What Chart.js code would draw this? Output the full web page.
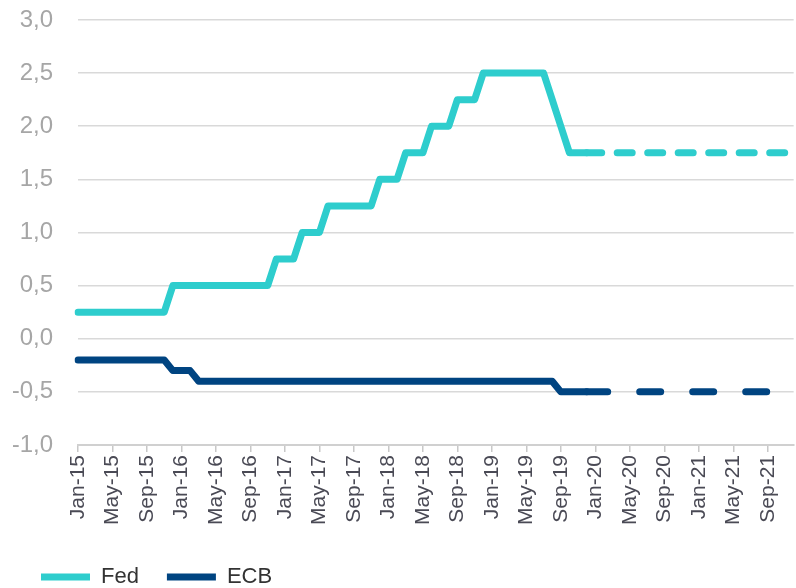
<!DOCTYPE html>
<html>
<head>
<meta charset="utf-8">
<script src="https://cdn.jsdelivr.net/npm/chart.js@4/dist/chart.umd.min.js"></script>
<style>
  html, body { margin: 0; padding: 0; background: #fff; }
  #wrap { width: 796px; height: 588px; }
</style>
</head>
<body>
<div id="wrap"><canvas id="rates"></canvas></div>
<script>
// months Jan-15 .. Dec-21
const months = [];
const monthNames = ['Jan','Feb','Mar','Apr','May','Jun','Jul','Aug','Sep','Oct','Nov','Dec'];
for (let y = 15; y <= 21; y++) {
    for (const m of monthNames) months.push(m + '-' + y);
}

// Fed (solid, observed) Jan-15 .. Dec-19
const fedActual = [
    0.25, 0.25, 0.25, 0.25, 0.25, 0.25, 0.25, 0.25, 0.25, 0.25, 0.25,
    0.5, 0.5, 0.5, 0.5, 0.5, 0.5, 0.5, 0.5, 0.5, 0.5, 0.5, 0.5,
    0.75, 0.75, 0.75,
    1.0, 1.0, 1.0,
    1.25, 1.25, 1.25, 1.25, 1.25, 1.25,
    1.5, 1.5, 1.5,
    1.75, 1.75, 1.75,
    2.0, 2.0, 2.0,
    2.25, 2.25, 2.25,
    2.5, 2.5, 2.5, 2.5, 2.5, 2.5, 2.5, 2.5,
    2.25, 2.0, 1.75,
    1.75, 1.75
];
// ECB (solid, observed) Jan-15 .. Dec-19
const ecbActual = [
    -0.2, -0.2, -0.2, -0.2, -0.2, -0.2, -0.2, -0.2, -0.2, -0.2, -0.2,
    -0.3, -0.3, -0.3,
    -0.4, -0.4, -0.4, -0.4, -0.4, -0.4, -0.4, -0.4, -0.4, -0.4, -0.4, -0.4, -0.4, -0.4,
    -0.4, -0.4, -0.4, -0.4, -0.4, -0.4, -0.4, -0.4, -0.4, -0.4, -0.4, -0.4, -0.4, -0.4,
    -0.4, -0.4, -0.4, -0.4, -0.4, -0.4, -0.4, -0.4, -0.4, -0.4, -0.4, -0.4, -0.4, -0.4,
    -0.5, -0.5, -0.5, -0.5
];
// forecasts Dec-19 .. Dec-21 (dashed)
const forecastStart = 59;
const fedForecast = 1.75;
const ecbForecast = -0.5;

const fedDashed = months.map((m, i) => i >= forecastStart ? fedForecast : null);
const ecbDashed = months.map((m, i) => i >= forecastStart ? ecbForecast : null);

const yTicks = [-1.0, -0.5, 0.0, 0.5, 1.0, 1.5, 2.0, 2.5, 3.0];

const FED_COLOR = '#2ecdcd';
const ECB_COLOR = '#004481';
const FONT = "'Liberation Sans', Arial, sans-serif";

const lineStyle = {
    borderWidth: 7,
    pointRadius: 0,
    pointHoverRadius: 0,
    tension: 0,
    borderCapStyle: 'round',
    borderJoinStyle: 'round',
    fill: false
};

new Chart(document.getElementById('rates'), {
    type: 'line',
    data: {
        labels: months,
        datasets: [
            { ...lineStyle, label: 'Fed', data: fedActual, borderColor: FED_COLOR, backgroundColor: FED_COLOR },
            { ...lineStyle, label: 'ECB', data: ecbActual, borderColor: ECB_COLOR, backgroundColor: ECB_COLOR },
            { ...lineStyle, label: 'Fed forecast', data: fedDashed, borderColor: FED_COLOR, borderDash: [15, 15.5] },
            { ...lineStyle, label: 'ECB forecast', data: ecbDashed, borderColor: ECB_COLOR, borderDash: [21, 32] }
        ]
    },
    options: {
        responsive: true,
        maintainAspectRatio: false,
        animation: false,
        layout: { padding: { top: 20, right: 1, left: 13, bottom: -10 } },
        plugins: {
            tooltip: { enabled: false },
            legend: {
                position: 'bottom',
                align: 'start',
                labels: {
                    filter: (item) => item.datasetIndex < 2,
                    usePointStyle: true,
                    pointStyle: 'line',
                    pointStyleWidth: 49,
                    padding: 28,
                    color: '#333333',
                    font: { family: FONT, size: 22 }
                }
            }
        },
        scales: {
            x: {
                type: 'category',
                offset: false,
                border: { display: true, color: '#d0d0d0', width: 2 },
                grid: { drawOnChartArea: false, drawTicks: true, tickLength: 7, color: '#c8c8c8', lineWidth: 1.5 },
                afterFit: (scale) => { scale.height = scale.height + 10; },
                ticks: {
                    autoSkip: false,
                    maxRotation: 90,
                    minRotation: 90,
                    padding: 3,
                    color: '#4a4a55',
                    font: { family: FONT, size: 21 },
                    callback: function (value, index) {
                        return index % 4 === 0 ? this.getLabelForValue(value) : null;
                    }
                }
            },
            y: {
                min: -1,
                max: 3,
                border: { display: false },
                grid: { color: '#d9d9d9', lineWidth: 1.5, drawTicks: false },
                afterBuildTicks: (scale) => { scale.ticks = yTicks.map(v => ({ value: v })); },
                afterFit: (scale) => {
                    scale.width = 65;
                    scale.paddingTop = 0;
                    scale.paddingBottom = 0;
                },
                ticks: {
                    padding: 25,
                    color: '#a6a6a6',
                    font: { family: FONT, size: 24 },
                    callback: (v) => Number(v).toFixed(1).replace('.', ',')
                }
            }
        }
    }
});
</script>
</body>
</html>
